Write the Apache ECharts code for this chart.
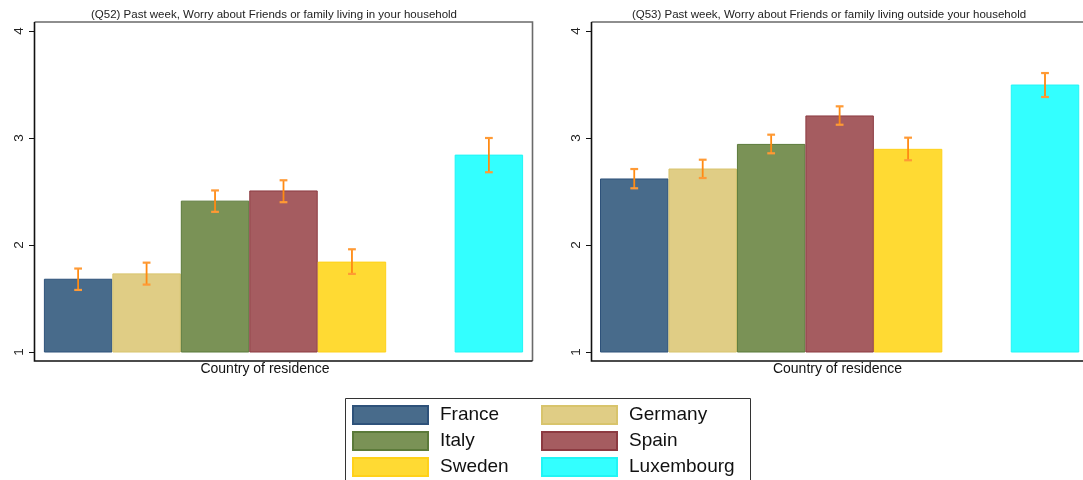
<!DOCTYPE html>
<html>
<head>
<meta charset="utf-8">
<script src="https://cdn.jsdelivr.net/npm/echarts@6/dist/echarts.min.js"></script>
<style>
  html, body { margin: 0; padding: 0; background: #fff; }
  #chart { width: 1083px; height: 480px; }
</style>
</head>
<body>
<div id="chart"></div>
<script>
// Countries, in bar order
const countries = ['France', 'Germany', 'Italy', 'Spain', 'Sweden', 'Luxembourg'];

// Q52: worry about friends/family living in the household (mean, 95% CI)
const q52Mean = [1.68, 1.73, 2.41, 2.505, 1.84, 2.84];
const q52Low  = [1.58, 1.63, 2.31, 2.40, 1.73, 2.68];
const q52High = [1.78, 1.835, 2.51, 2.605, 1.96, 3.00];

// Q53: worry about friends/family living outside the household
const q53Mean = [2.617, 2.71, 2.94, 3.206, 2.894, 3.495];
const q53Low  = [2.53, 2.626, 2.857, 3.124, 2.792, 3.383];
const q53High = [2.71, 2.797, 3.031, 3.296, 3.003, 3.607];

const panelTitles = [
  '(Q52) Past week, Worry about Friends or family living in your household',
  '(Q53) Past week, Worry about Friends or family living outside your household'
];
const yTicks = [1, 2, 3, 4];
const xTitle = 'Country of residence';

const fills   = ['#486b8b', '#e0cd85', '#7a9256', '#a55c60', '#ffda33', '#33ffff'];
const borders = ['#2e527a', '#d8c46c', '#5b7a3a', '#8c3a41', '#ffd11a', '#22f5f5'];

const FONT = "'Liberation Sans', Arial, Helvetica, sans-serif";
const BASE = 1;           // bars rise from the bottom of the scale
// Luxembourg sits one empty slot to the right of the others
const slotOf = i => (i < 5 ? i : i + 1);

// the second panel runs past the right edge of the canvas, so its grid is cut
// at the edge and its x range shortened to keep the same slot width
const panels = [
  { mean: q52Mean, low: q52Low, high: q52High, left: 35, width: 497, frameW: 497,
    xMin: -0.13, xMax: 7.13, titleX: 274, nameShift: 37 },
  { mean: q53Mean, low: q53Low, high: q53High, left: 592, width: 491, frameW: 497,
    xMin: -0.117, xMax: 7.055, titleX: 829, nameShift: 0 }
];
const GRID_TOP = 31, GRID_H = 321;

const grids = [], xAxes = [], yAxes = [], series = [], graphics = [];

panels.forEach((p, k) => {
  grids.push({ left: p.left, top: GRID_TOP, width: p.width, height: GRID_H, containLabel: false });
  xAxes.push({
    gridIndex: k, type: 'value', min: p.xMin, max: p.xMax,
    axisLine: { show: false, onZero: false }, axisTick: { show: false }, axisLabel: { show: false },
    splitLine: { show: false },
    name: xTitle, nameLocation: 'middle', nameGap: 10,
    nameTextStyle: { fontFamily: FONT, fontSize: 14, color: '#111', padding: [0, p.nameShift, 0, 0] }
  });
  yAxes.push({
    gridIndex: k, type: 'value', min: yTicks[0], max: yTicks[yTicks.length - 1], interval: 1,
    axisLine: { show: false, onZero: false },
    axisTick: { show: true, length: 6, lineStyle: { color: '#111', width: 1 } },
    axisLabel: { rotate: 90, margin: 9, fontFamily: FONT, fontSize: 13.5, color: '#222' },
    splitLine: { show: false }
  });

  // one bar per country
  countries.forEach((c, i) => {
    series.push({
      name: c, type: 'custom', xAxisIndex: k, yAxisIndex: k,
      itemStyle: { color: fills[i], borderColor: borders[i], borderWidth: 1 },
      data: [[slotOf(i), p.mean[i]]],
      renderItem: (params, api) => {
        const s = api.value(0), v = api.value(1);
        const a = api.coord([s, BASE]);
        const b = api.coord([s + 1, v]);
        return {
          type: 'rect',
          shape: { x: a[0] + 0.5, y: b[1], width: b[0] - a[0] - 1, height: a[1] - b[1] },
          style: api.style()
        };
      },
      z: 2
    });
  });

  // confidence intervals
  series.push({
    name: 'ci' + k, type: 'custom', xAxisIndex: k, yAxisIndex: k,
    data: countries.map((c, i) => [slotOf(i) + 0.5, p.low[i], p.high[i]]),
    renderItem: (params, api) => {
      const x = api.value(0);
      const lo = api.coord([x, api.value(1)]);
      const hi = api.coord([x, api.value(2)]);
      const cap = 3.9;
      const stem = { stroke: '#ff8a12', lineWidth: 1.8 };
      const capStyle = { stroke: '#ff9a35', lineWidth: 2.2 };
      return {
        type: 'group',
        children: [
          { type: 'line', shape: { x1: lo[0], y1: lo[1], x2: hi[0], y2: hi[1] }, style: stem },
          { type: 'line', shape: { x1: hi[0] - cap, y1: hi[1], x2: hi[0] + cap, y2: hi[1] }, style: capStyle },
          { type: 'line', shape: { x1: lo[0] - cap, y1: lo[1], x2: lo[0] + cap, y2: lo[1] }, style: capStyle }
        ]
      };
    },
    z: 3
  });

  // panel frame: dark left/bottom, grey top/right
  const x0 = p.left - 0.5, x1 = p.left + p.frameW + 0.5;
  const y0 = GRID_TOP - 9, y1 = GRID_TOP + GRID_H + 9;
  graphics.push(
    { type: 'polyline', shape: { points: [[x0, y0], [x1, y0], [x1, y1]] },
      style: { stroke: '#6a6a6a', lineWidth: 1.6, fill: null }, z: 10 },
    { type: 'polyline', shape: { points: [[x0, y0], [x0, y1], [x1, y1]] },
      style: { stroke: '#111', lineWidth: 1.6, fill: null }, z: 10 },
    { type: 'text', x: p.titleX, y: 15,
      style: { text: panelTitles[k], fontFamily: FONT, fontSize: 11.5, fill: '#222',
               textAlign: 'center', textVerticalAlign: 'middle' } }
  );
});

// legend frame
graphics.push({
  type: 'rect', shape: { x: 345.5, y: 398.5, width: 405, height: 100 },
  style: { stroke: '#333', lineWidth: 1, fill: null }
});

const legendCommon = {
  orient: 'vertical', icon: 'rect', itemWidth: 75, itemHeight: 18, itemGap: 6, padding: 0,
  selectedMode: true,
  textStyle: { fontFamily: FONT, fontSize: 19, color: '#111', padding: [0, 0, 0, 7] }
};

const chart = echarts.init(document.getElementById('chart'), null, { renderer: 'canvas' });
chart.setOption({
  backgroundColor: '#fff',
  animation: false,
  grid: grids,
  xAxis: xAxes,
  yAxis: yAxes,
  legend: [
    Object.assign({}, legendCommon, { left: 352, top: 405, data: [countries[0], countries[2], countries[4]] }),
    Object.assign({}, legendCommon, { left: 541, top: 405, data: [countries[1], countries[3], countries[5]] })
  ],
  graphic: graphics,
  series: series
});
</script>
</body>
</html>
